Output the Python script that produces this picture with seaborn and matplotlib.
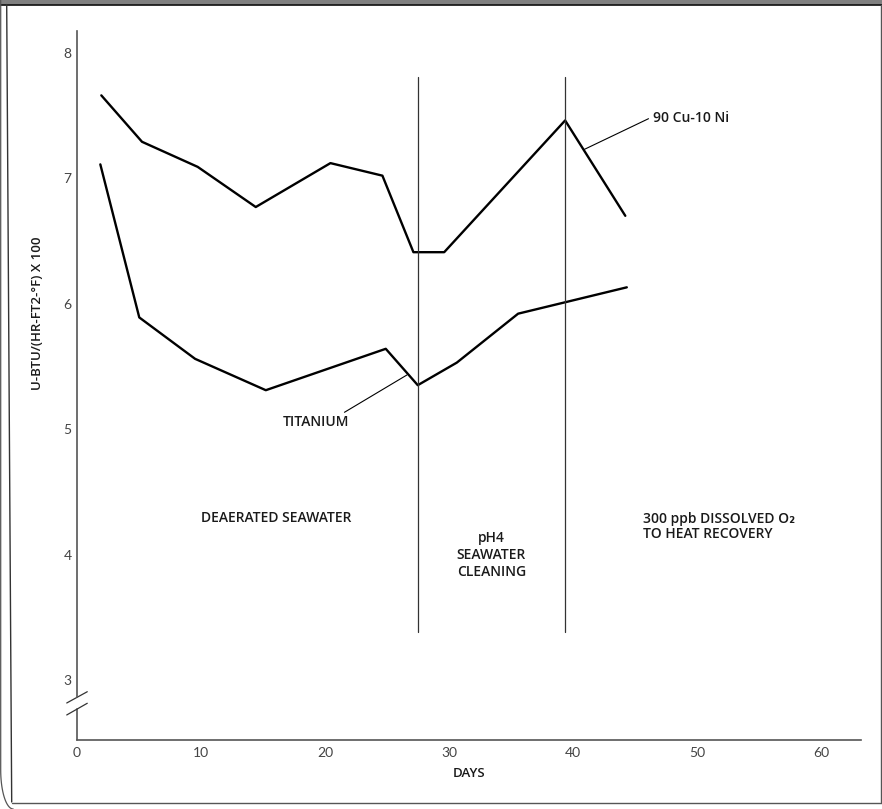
import numpy as np
import pandas as pd
import matplotlib
matplotlib.use("Agg")
import matplotlib.pyplot as plt
import seaborn as sns
from matplotlib.lines import Line2D
from matplotlib.patches import Rectangle

# ---- data ----
cuni_days = [1.96, 5.24, 9.73, 14.41, 20.43, 24.62, 27.12, 29.6, 39.35, 44.2]
cuni_u = [7.66, 7.29, 7.09, 6.77, 7.12, 7.02, 6.41, 6.41, 7.46, 6.70]
ti_days = [1.88, 5.02, 9.52, 15.22, 24.89, 27.47, 30.62, 35.56, 44.32]
ti_u = [7.11, 5.89, 5.56, 5.31, 5.64, 5.35, 5.53, 5.92, 6.13]
phase_days = [27.5, 39.35]
x_ticks = [0, 10, 20, 30, 40, 50, 60]
y_ticks = [3, 4, 5, 6, 7, 8]
series_names = ["90 Cu-10 Ni", "TITANIUM"]

df = pd.concat([
    pd.DataFrame({"days": cuni_days, "u": cuni_u, "series": series_names[0]}),
    pd.DataFrame({"days": ti_days, "u": ti_u, "series": series_names[1]}),
])

sns.set_theme(style="white")
plt.rcParams["font.family"] = ["Lato", "DejaVu Sans"]
ANN_FAMILY = ["Open Sans", "DejaVu Sans"]

W, H = 882, 809
fig = plt.figure(figsize=(W / 100, H / 100), dpi=100)
ax = fig.add_axes([77 / W, 69 / H, 784 / W, 709 / H])

sns.lineplot(data=df, x="days", y="u", hue="series",
             palette={series_names[0]: "black", series_names[1]: "black"},
             sort=False, estimator=None, legend=False, linewidth=1.7, ax=ax)

ax.set_xlim(0, 63.2)
ax.set_ylim(2.522, 8.173)

for xd in phase_days:
    ax.plot([xd, xd], [3.38, 7.81], color="#333333", linewidth=0.9)

# leader lines
ax.plot([40.91, 46.07], [7.23, 7.474], color="black", linewidth=0.8)
ax.plot([21.56, 26.59], [5.134, 5.431], color="black", linewidth=0.8)

txt = dict(color="#1a1a1a", fontsize=10, fontweight="semibold", family=ANN_FAMILY)
ax.text(46.43, 7.48, "90 Cu-10 Ni", ha="left", va="center", **txt)
ax.text(19.23, 5.059, "TITANIUM", ha="center", va="center", **txt)
ax.text(16.05, 4.291, "DEAERATED SEAWATER", ha="center", va="center", **txt)
ax.text(33.4, 3.995, "pH4\nSEAWATER\nCLEANING", ha="center", va="center",
        linespacing=1.3, multialignment="center", **txt)
ax.text(45.65, 4.225, "300 ppb DISSOLVED O\u2082\nTO HEAT RECOVERY", ha="left",
        va="center", linespacing=1.1, **txt)

# axes styling
ax.set_xticks(x_ticks)
ax.set_yticks(y_ticks)
ax.tick_params(direction="in", length=8, width=1, colors="#333333",
               labelcolor="#444444", labelsize=10, pad=5)
ax.tick_params(axis="y", pad=4)
ax.spines["top"].set_visible(False)
ax.spines["right"].set_visible(False)
for s in ("left", "bottom"):
    ax.spines[s].set_color("#555555")
    ax.spines[s].set_linewidth(1.2)
ax.spines["left"].set_bounds(2.866, 8.173)
ax.plot([0, 0], [2.522, 2.770], color="#555555", linewidth=1.2, clip_on=False)
# axis break slashes
for y0, y1 in [(0.0522, 0.0681), (0.0353, 0.0518)]:
    ax.add_line(Line2D([-0.0131, 0.0131], [y0, y1], transform=ax.transAxes,
                       color="#333333", linewidth=0.9, clip_on=False))

ax.set_xlabel("DAYS", fontsize=9.5, fontweight="semibold", color="#1a1a1a",
              labelpad=6, family=ANN_FAMILY)
ax.set_ylabel("U-BTU/(HR-FT2-°F) X 100", fontsize=9.5, fontweight="semibold",
              color="#1a1a1a", family=ANN_FAMILY)
ax.yaxis.set_label_coords(-0.042, 0.602)
ax.grid(False)

# page frame
def fx(x):
    return x / W

def fy(y):
    return 1 - y / H

fig.add_artist(Rectangle((0, fy(4)), 1, 4 / H, transform=fig.transFigure,
                         color="#808080", zorder=0))
fig.add_artist(Line2D([0, 1], [fy(4.5), fy(4.5)], transform=fig.transFigure,
                      color="#111111", linewidth=1.2))
fig.add_artist(Line2D([fx(6.7), fx(11.7)], [fy(4.5), fy(802)], transform=fig.transFigure,
                      color="#333333", linewidth=1.0))
fig.add_artist(Line2D([fx(11.7), fx(882)], [fy(802.5), fy(802.5)], transform=fig.transFigure,
                      color="#555555", linewidth=1.0))
fig.add_artist(Line2D([fx(880.5), fx(880.5)], [fy(4.5), fy(802)], transform=fig.transFigure,
                      color="#555555", linewidth=1.0))
t = np.linspace(0, np.pi / 2, 20)
arc_x = [0.7] * 2 + list(0.7 + 12.5 * (1 - np.cos(t)))
arc_y = [0, 770] + list(770 + 39 * np.sin(t))
fig.add_artist(Line2D([fx(v) for v in arc_x], [fy(v) for v in arc_y],
                      transform=fig.transFigure, color="#555555", linewidth=0.9))

fig.savefig("out.png", dpi=100)
